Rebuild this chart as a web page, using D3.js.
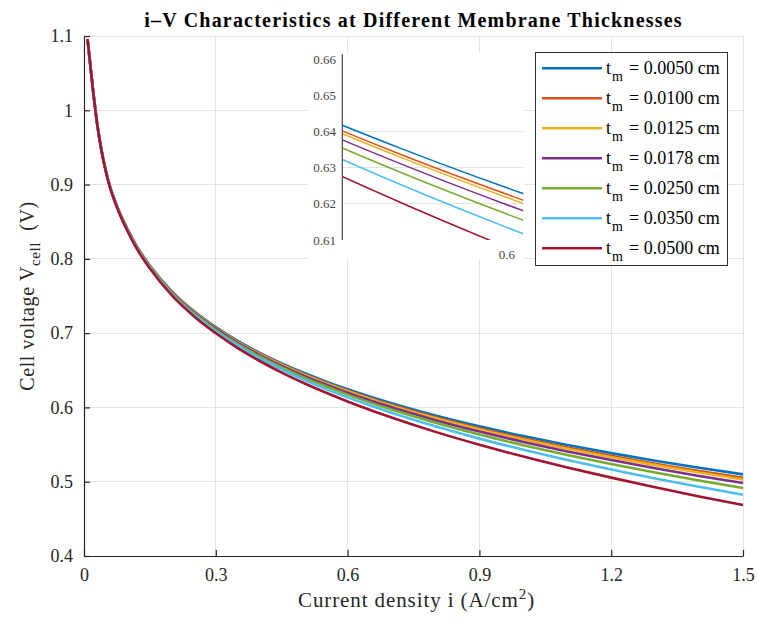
<!DOCTYPE html>
<html><head><meta charset="utf-8">
<script src="https://cdn.jsdelivr.net/npm/d3@7"></script>
<style>html,body{margin:0;padding:0;background:#fff;}svg{display:block;} svg text{font-family:"Liberation Serif","Times New Roman",serif !important;}</style>
</head><body>
<svg id="chart" width="757" height="625"></svg>
<script>
// ---- data ----
const currentDensity = [0.008,0.02,0.03,0.04,0.05,0.06,0.07,0.08,0.10,0.12,0.15,0.20,0.25,0.30,0.35,0.40,0.45,0.50,0.55,0.60,0.65,0.70,0.80,0.90,1.00,1.10,1.20,1.30,1.40,1.50];
const vT0050 = [1.0960,1.0300,0.9820,0.9460,0.9180,0.8960,0.8790,0.8640,0.8390,0.8170,0.7910,0.7563,0.7297,0.7080,0.6895,0.6735,0.6593,0.6466,0.6351,0.6245,0.6147,0.6056,0.5891,0.5745,0.5614,0.5494,0.5385,0.5282,0.5187,0.5099];
const vT0100 = [1.0960,1.0299,0.9819,0.9459,0.9178,0.8958,0.8788,0.8638,0.8387,0.8166,0.7905,0.7557,0.7289,0.7071,0.6884,0.6723,0.6579,0.6451,0.6334,0.6227,0.6127,0.6035,0.5867,0.5718,0.5584,0.5460,0.5348,0.5242,0.5144,0.5053];
const vT0125 = [1.0960,1.0299,0.9819,0.9458,0.9178,0.8957,0.8787,0.8636,0.8385,0.8164,0.7903,0.7554,0.7286,0.7066,0.6879,0.6717,0.6572,0.6443,0.6326,0.6218,0.6117,0.6024,0.5854,0.5704,0.5568,0.5444,0.5330,0.5223,0.5123,0.5030];
const vT0178 = [1.0959,1.0298,0.9818,0.9457,0.9176,0.8955,0.8785,0.8634,0.8382,0.8161,0.7898,0.7547,0.7278,0.7057,0.6868,0.6704,0.6558,0.6427,0.6308,0.6198,0.6096,0.6001,0.5829,0.5675,0.5536,0.5408,0.5291,0.5181,0.5078,0.4982];
const vT0250 = [1.0959,1.0298,0.9816,0.9455,0.9174,0.8953,0.8781,0.8630,0.8378,0.8155,0.7892,0.7539,0.7267,0.7043,0.6852,0.6686,0.6538,0.6405,0.6284,0.6172,0.6068,0.5971,0.5793,0.5635,0.5492,0.5360,0.5239,0.5123,0.5016,0.4916];
const vT0350 = [1.0959,1.0296,0.9815,0.9453,0.9171,0.8949,0.8777,0.8625,0.8372,0.8148,0.7883,0.7526,0.7251,0.7025,0.6831,0.6662,0.6511,0.6375,0.6250,0.6135,0.6028,0.5928,0.5745,0.5580,0.5431,0.5293,0.5165,0.5044,0.4931,0.4825];
const vT0500 = [1.0958,1.0295,0.9812,0.9449,0.9166,0.8943,0.8771,0.8618,0.8362,0.8137,0.7869,0.7508,0.7228,0.6998,0.6799,0.6625,0.6469,0.6329,0.6200,0.6080,0.5968,0.5864,0.5671,0.5498,0.5339,0.5192,0.5055,0.4925,0.4802,0.4687];
const thicknessLabels = ["0.0050","0.0100","0.0125","0.0178","0.0250","0.0350","0.0500"];
const seriesColors = ["#0072BD","#D95319","#EDB120","#7E2F8E","#77AC30","#4DBEEE","#A2142F"];
const xTicks = [0,0.3,0.6,0.9,1.2,1.5];
const xTickLabels = ["0","0.3","0.6","0.9","1.2","1.5"];
const yTicks = [0.4,0.5,0.6,0.7,0.8,0.9,1.0,1.1];
const yTickLabels = ["0.4","0.5","0.6","0.7","0.8","0.9","1","1.1"];
const insetYTicks = [0.61,0.62,0.63,0.64,0.65,0.66];
const insetYTickLabels = ["0.61","0.62","0.63","0.64","0.65","0.66"];
const insetYGrid = [0.62,0.63,0.64];
const insetXTicks = [0.6];
const insetXTickLabels = ["0.6"];
const titleText = "i\u2013V Characteristics at Different Membrane Thicknesses";

const seriesValues = [vT0050,vT0100,vT0125,vT0178,vT0250,vT0350,vT0500];
const series = seriesValues.map((vals,k)=>({label:thicknessLabels[k], color:seriesColors[k],
  pts: currentDensity.map((c,j)=>[c, vals[j]])}));

// ---- layout ----
const svg = d3.select("#chart");
const L=84, R=743, T=36, B=556;
const x = d3.scaleLinear([0,1.5],[L,R]);
const y = d3.scaleLinear([0.4,1.1],[B,T]);
const ink = "#262626";
const gridCol = "#e3e3e3";

// grid
svg.append("g").selectAll("line").data(xTicks).join("line")
  .attr("x1",d=>x(d)).attr("x2",d=>x(d)).attr("y1",T).attr("y2",B)
  .attr("stroke",gridCol).attr("stroke-width",1).attr("shape-rendering","crispEdges");
svg.append("g").selectAll("line").data(yTicks).join("line")
  .attr("y1",d=>y(d)).attr("y2",d=>y(d)).attr("x1",L).attr("x2",R)
  .attr("stroke",gridCol).attr("stroke-width",1).attr("shape-rendering","crispEdges");

// axes
const xAxis = d3.axisBottom(x).tickValues(xTicks).tickFormat((d,i)=>xTickLabels[i]).tickSizeInner(-6).tickSizeOuter(0).tickPadding(12);
const yAxis = d3.axisLeft(y).tickValues(yTicks).tickFormat((d,i)=>yTickLabels[i]).tickSizeInner(-6).tickSizeOuter(0).tickPadding(11);
const gx = svg.append("g").attr("transform",`translate(0,${B})`).call(xAxis);
const gy = svg.append("g").attr("transform",`translate(${L},0)`).call(yAxis);
[gx,gy].forEach(g=>{
  g.attr("font-family",null).attr("font-size",null);
  g.select(".domain").attr("stroke",ink).attr("stroke-width",1.2);
  g.selectAll(".tick line").attr("stroke",ink).attr("stroke-width",1.2);
  g.selectAll(".tick text").attr("fill",ink).style("font-size","18px");
});
gx.selectAll(".tick text").attr("dy","0.71em").attr("y",12);

// lines
const line = d3.line().x(d=>x(d[0])).y(d=>y(d[1])).curve(d3.curveMonotoneX);
svg.append("g").selectAll("path").data(series).join("path")
  .attr("d",d=>line(d.pts)).attr("fill","none").attr("stroke",d=>d.color)
  .attr("stroke-width",2.6).attr("stroke-linejoin","round");

// title
svg.append("text").attr("x",(L+R)/2).attr("y",27).attr("text-anchor","middle")
  .style("font-size","20px").style("letter-spacing","1.2px").attr("font-weight","bold").attr("fill","#000").text(titleText);

// x label
const xl = svg.append("text").attr("x",(L+R)/2+3).attr("y",607).attr("text-anchor","middle")
  .style("font-size","21px").style("letter-spacing","0.9px").attr("fill",ink);
xl.append("tspan").text("Current density i (A/cm");
xl.append("tspan").style("font-size","15px").attr("dy",-8).text("2");
xl.append("tspan").attr("dy",8).text(")");

// y label
const yl = svg.append("text").attr("transform","translate(34,296) rotate(-90)").attr("text-anchor","middle")
  .style("font-size","20px").style("letter-spacing","0.6px").attr("fill",ink);
yl.append("tspan").text("Cell voltage V");
yl.append("tspan").style("font-size","15px").attr("dy",6).text("cell");
yl.append("tspan").attr("dy",-6).text("\u00a0\u00a0(V)");

// ---- inset ----
const xi = d3.scaleLinear([0.52,0.608],[342.3,523.3]);
const yi = d3.scaleLinear([0.61,0.6616],[240,54.2]);
svg.append("rect").attr("x",308).attr("y",53).attr("width",216).attr("height",206).attr("fill","#fff");
svg.append("defs").append("clipPath").attr("id","insetClip").append("rect")
  .attr("x",342.3).attr("y",54.2).attr("width",181).attr("height",185.8);
svg.append("g").selectAll("line").data(insetYGrid).join("line")
  .attr("x1",342.3).attr("x2",523.3).attr("y1",d=>yi(d)).attr("y2",d=>yi(d))
  .attr("stroke",gridCol).attr("stroke-width",1).attr("shape-rendering","crispEdges");
const lineI = d3.line().x(d=>xi(d[0])).y(d=>yi(d[1])).curve(d3.curveMonotoneX);
svg.append("g").attr("clip-path","url(#insetClip)").selectAll("path").data(series).join("path")
  .attr("d",d=>lineI(d.pts)).attr("fill","none").attr("stroke",d=>d.color).attr("stroke-width",1.5);
svg.append("line").attr("x1",342.3).attr("x2",342.3).attr("y1",54.2).attr("y2",240)
  .attr("stroke","#555").attr("stroke-width",1.3);
svg.append("g").selectAll("text").data(insetYTicks).join("text")
  .attr("x",336).attr("y",d=>yi(d)+4.5).attr("text-anchor","end").style("font-size","13px").attr("fill","#444")
  .text((d,i)=>insetYTickLabels[i]);
svg.append("g").selectAll("text").data(insetXTicks).join("text")
  .attr("x",d=>xi(d)).attr("y",259).attr("text-anchor","middle").style("font-size","13px").attr("fill","#444")
  .text((d,i)=>insetXTickLabels[i]);

// ---- legend ----
const lg = svg.append("g");
lg.append("rect").attr("x",535.5).attr("y",52.5).attr("width",192).attr("height",213)
  .attr("fill","#fff").attr("stroke","#333").attr("stroke-width",1);
const rows = lg.selectAll("g").data(series).join("g").attr("transform",(d,k)=>`translate(0,${68.3+k*30})`);
rows.append("line").attr("x1",542).attr("x2",602).attr("y1",0).attr("y2",0)
  .attr("stroke",d=>d.color).attr("stroke-width",2.6);
rows.append("text").attr("x",606).attr("y",5.5).style("font-size","18px").attr("fill","#000").text("t");
rows.append("text").attr("x",612).attr("y",13).style("font-size","14px").attr("fill","#000").text("m");
rows.append("text").attr("x",629).attr("y",5.5).style("font-size","18px").attr("fill","#000").text(d=>"= "+d.label+" cm");
</script>
</body></html>
